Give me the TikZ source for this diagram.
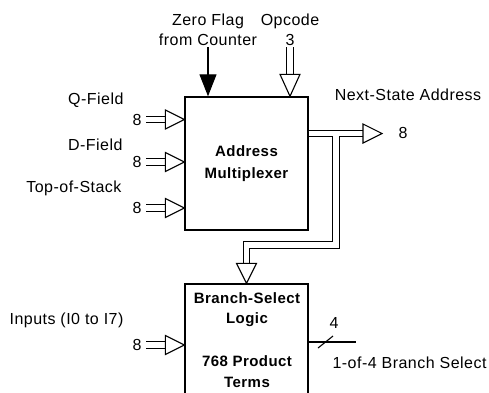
\documentclass[tikz,border=0pt]{standalone}
\usepackage{fontspec}
\setmainfont{Liberation Sans}[LetterSpace=3.0]
\usetikzlibrary{arrows.meta,calc}
\begin{document}
\begin{tikzpicture}[x=1pt,y=-1pt,line width=1.1pt,font=\fontsize{16}{20}\selectfont,
  lbl/.style={inner sep=1pt,align=center},
  box/.style={draw,line width=1.4pt,minimum width=123pt,inner sep=0pt,align=center},
  bus/.style={double,double distance=5.6pt,line width=1.1pt},
  hollow/.style={fill=white,line join=miter}]
\useasboundingbox (0,0) rectangle (489,392);
\clip (0,0) rectangle (489,392);
% blocks
\node[box,minimum height=133pt,font=\fontsize{15}{22}\selectfont\bfseries] (amux) at (246.5,163.5) {Address\\Multiplexer};
\node[box,minimum height=140pt] (bsl) at (246.5,354) {};
\node[lbl,font=\fontsize{15}{20}\selectfont\bfseries] (bsl1) at (247,310) {Branch-Select\\Logic};
\node[lbl,font=\fontsize{15}{21}\selectfont\bfseries] (bsl2) at (247,372) {768 Product\\Terms};
% labels
\node[lbl] (zf) at (208,30) {Zero Flag\\from Counter};
\node[lbl] (op) at (290,30) {Opcode\\3};
\node[lbl] (nsa) at (408,95) {Next-State Address};
\node[lbl] (ns8) at (403,133) {8};
\node[lbl,anchor=east] (qf) at (125,100) {Q-Field};
\node[lbl,anchor=east] (df) at (124,145) {D-Field};
\node[lbl,anchor=east] (tos) at (123,188) {Top-of-Stack};
\node[lbl] (q8) at (137,119.5) {8};
\node[lbl] (d8) at (137,162) {8};
\node[lbl] (t8) at (137,208) {8};
\node[lbl,anchor=east] (inp) at (125,320) {Inputs (I0 to I7)};
\node[lbl] (i8) at (137,345) {8};
\node[lbl] (four) at (334,323) {4};
\node[lbl,anchor=west] (bsel) at (331,363) {1-of-4 Branch Select};
% control inputs
\draw[-{Triangle[length=22pt,width=17pt]}] (zf) -- (zf |- amux.north);
\draw[bus] (op) -- ($(op |- amux.north)+(0,-22)$);
\draw[hollow] (op |- amux.north) -- +(-10,-22) -- +(10,-22) -- cycle;
% data inputs
\draw[bus,shorten <=3pt] (q8) -- ($(amux.west |- q8)+(-19,0)$);
\draw[hollow] (amux.west |- q8) -- +(-19,-9.5) -- +(-19,9.5) -- cycle;
\draw[bus,shorten <=3pt] (d8) -- ($(amux.west |- d8)+(-19,0)$);
\draw[hollow] (amux.west |- d8) -- +(-19,-9.5) -- +(-19,9.5) -- cycle;
\draw[bus,shorten <=3pt] (t8) -- ($(amux.west |- t8)+(-19,0)$);
\draw[hollow] (amux.west |- t8) -- +(-19,-9.5) -- +(-19,9.5) -- cycle;
\draw[bus,shorten <=3pt] (i8) -- ($(bsl.west |- i8)+(-19,0)$);
\draw[hollow] (bsl.west |- i8) -- +(-19,-9.5) -- +(-19,9.5) -- cycle;
% next-state address
\coordinate (nstip) at (382,133.5);
\draw[bus] (amux.east |- nstip) -- ($(nstip)+(-19,0)$);
\draw[hollow] (nstip) -- +(-19,-9.5) -- +(-19,9.5) -- cycle;
\coordinate (jn) at (336,136.3);
\draw[bus] (jn) -- (336,245) -| ($(bsl.north)+(0,-20)$);
\draw[hollow] (bsl.north) -- +(-10,-20) -- +(10,-20) -- cycle;
% branch select out
\coordinate (bsout) at (356,342);
\draw (bsl.east |- bsout) -- (bsout);
\draw ($(bsout)+(-38,6)$) -- +(15,-12);
\end{tikzpicture}
\end{document}
